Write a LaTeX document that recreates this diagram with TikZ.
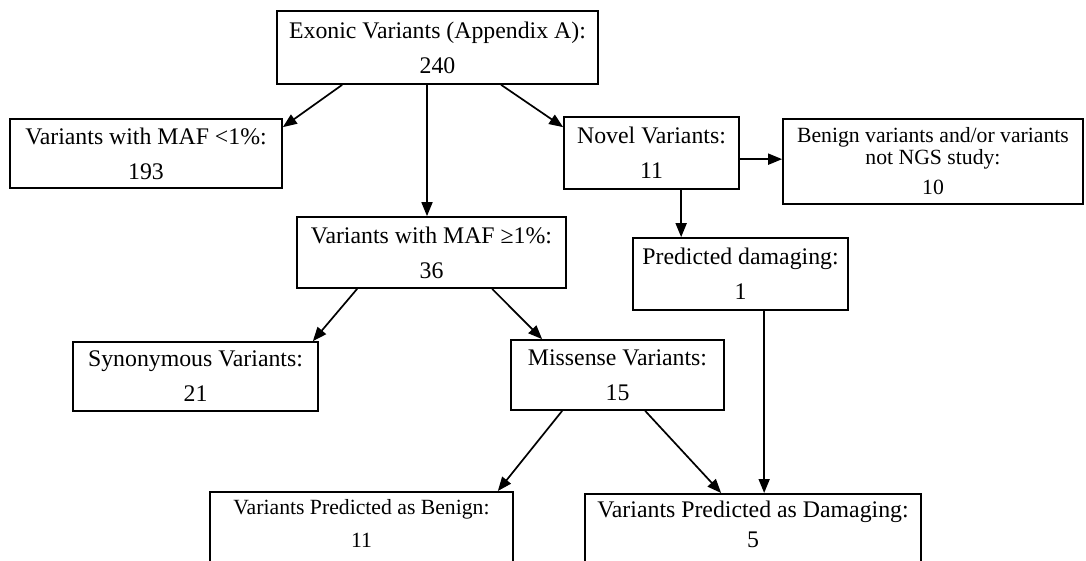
\documentclass[tikz,border=0pt]{standalone}
\usepackage{fontspec}
\setmainfont{Liberation Serif}
\usetikzlibrary{arrows.meta}
\begin{document}
\begin{tikzpicture}[x=1pt,y=-1pt,
  mainfont/.style={font=\fontsize{23.8}{35}\selectfont},
  smallfont/.style={font=\fontsize{21.7}{22}\selectfont},
  box/.style={draw, line width=1.7pt, align=center, inner sep=0pt, mainfont},
  smallbox/.style={box, smallfont},
  txt/.style={align=center, inner sep=0pt},
  link/.style={line width=1.7pt, -{Triangle[length=14pt,width=11pt]}}
]
\useasboundingbox (0,0) rectangle (1086,560);
\clip (0,0) rectangle (1086,560);

% boxes
\node[box, minimum width=321, minimum height=73] (exonic) at (437.5,47.5) {Exonic Variants (Appendix A):\\240};
\node[box, minimum width=272, minimum height=69] (maflow) at (146,153.5) {Variants with MAF <1\%:\\193};
\node[box, minimum width=175, minimum height=72] (novel) at (651.5,153) {Novel Variants:\\11};
\node[smallbox, minimum width=300, minimum height=85] (benign) at (933,161.5) {Benign variants and/or variants\\not NGS study:\\[8pt]10};
\node[box, minimum width=269, minimum height=71] (mafhigh) at (431.5,252.5) {Variants with MAF ≥1\%:\\36};
\node[box, minimum width=215, minimum height=72] (preddam) at (740.5,274) {Predicted damaging:\\1};
\node[box, minimum width=245, minimum height=69] (synon) at (195.5,376.5) {Synonymous Variants:\\21};
\node[box, minimum width=213, minimum height=70] (missense) at (617.5,375) {Missense Variants:\\15};

% bottom row, running past the lower edge
\node[box, minimum width=303, minimum height=100, anchor=north] (predben) at (361.5,491) {};
\node[txt, font=\fontsize{21.7}{33}\selectfont] (predbentxt) at (361.5,523.5) {Variants Predicted as Benign:\\11};
\node[box, minimum width=336, minimum height=100, anchor=north] (damaging) at (753,493) {};
\node[txt, font=\fontsize{23.8}{30}\selectfont] (damagingtxt) at (753,524) {Variants Predicted as Damaging:\\5};

% helper points for straight runs
\coordinate (mh) at ([xshift=-4.5]mafhigh.north);
\coordinate (nb) at ([yshift=-43]novel.north east);
\coordinate (np) at ([xshift=49]preddam.north west);
\coordinate (pd) at ([xshift=132]preddam.south west);

% connectors
\draw[link] ([xshift=66]exonic.south west) -- ([yshift=-9]maflow.north east);
\draw[link] (mh |- exonic.south) -- (mh);
\draw[link] ([xshift=225]exonic.south west) -- ([yshift=-11]novel.north west);
\draw[link] (nb) -- (nb -| benign.west);
\draw[link] (np |- novel.south) -- (np);
\draw[link] ([xshift=61]mafhigh.south west) -- ([xshift=-6]synon.north east);
\draw[link] ([xshift=196]mafhigh.south west) -- ([xshift=32]missense.north west);
\draw[link] ([xshift=52]missense.south west) -- ([xshift=-16]predben.north east);
\draw[link] ([xshift=135]missense.south west) -- ([xshift=137]damaging.north west);
\draw[link] (pd) -- (pd |- damaging.north);
\end{tikzpicture}
\end{document}
